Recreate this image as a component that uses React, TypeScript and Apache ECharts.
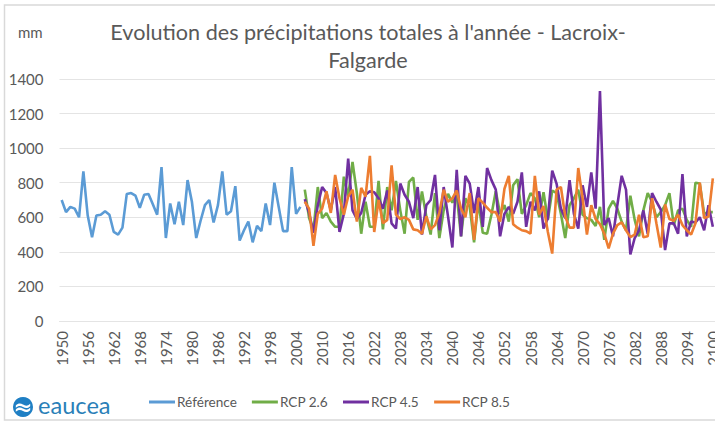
import React, { useEffect, useRef } from "react";
import * as echarts from "echarts";

const years: string[] = [];
for (let y = 1950; y <= 2100; y++) years.push(String(y));

const reference = [700,630,660,650,600,865,610,485,610,615,635,615,515,500,540,735,740,725,655,730,735,675,615,890,480,680,560,690,555,815,690,480,580,670,700,570,670,865,615,635,780,465,525,575,455,550,520,680,555,800,660,520,520,890,620,660];
const rcp26 = [760,595,525,775,595,625,575,545,545,835,720,920,740,505,690,545,545,810,530,775,640,810,640,505,805,830,585,750,605,500,740,480,640,735,685,730,490,710,660,455,690,510,505,615,750,620,670,575,785,820,620,670,740,710,600,745,585,755,740,620,480,670,710,760,615,595,585,550,660,470,650,695,650,575,525,725,585,490,640,740,690,600,630,670,740,555,640,650,585,545,800,795,620,630,630];
const rcp45 = [705,625,510,670,775,740,640,775,515,620,940,640,590,625,730,750,745,710,650,755,565,535,795,730,690,595,775,500,670,700,845,525,775,605,425,875,490,840,795,625,775,545,885,815,760,490,620,660,620,690,860,545,690,640,750,535,595,870,795,650,595,815,620,535,785,660,860,650,1330,555,595,490,670,840,760,385,480,525,640,505,740,690,645,410,565,565,505,850,490,575,570,600,525,670,545];
const rcp85 = [690,650,435,620,650,750,625,845,710,615,720,760,575,770,720,955,515,700,565,585,900,615,590,600,585,530,525,505,605,530,555,625,760,690,710,755,650,600,740,470,710,685,655,630,630,575,765,840,560,540,525,520,505,840,615,665,515,390,760,775,605,540,540,885,710,500,670,590,560,505,420,505,555,570,525,485,500,615,485,490,710,565,425,675,590,580,615,555,525,500,565,800,595,605,825];
const pad = (a: number[]) => [...new Array(56).fill(null), ...a];

const FONT = "Lato, sans-serif";
const GRAY = "#595959";

echarts.graphic.registerShape(
  "eauceaDrop",
  echarts.graphic.extendPath(
    "M1 8 C4 5 7 5 10 7 C13 9 16 9 19 6 L19 9 C16 12 13 12 10 10 C7 8 4 8 1 11 Z M1 13 C4 10 7 10 10 12 C13 14 16 14 19 11 L19 14 C16 17 13 17 10 15 C7 13 4 13 1 16 Z",
    {}
  )
);

export default function App() {
  const ref = useRef<HTMLDivElement>(null);
  useEffect(() => {
    const chart = echarts.init(ref.current!, null, { renderer: "svg" });
    const line = (name: string, data: (number | null)[], color: string, z: number) => ({
      name, type: "line", data, z, showSymbol: false, symbol: "none", smooth: false,
      connectNulls: false, lineStyle: { color, width: 2.6 }, itemStyle: { color },
    });
    chart.setOption({
      animation: false,
      backgroundColor: "#ffffff",
      textStyle: { fontFamily: FONT },
      title: {
        text: "Evolution des précipitations totales à l'année - Lacroix-\nFalgarde",
        left: 363, top: 13, textAlign: "center",
        textStyle: { fontFamily: FONT, fontSize: 21.6, fontWeight: "normal", color: GRAY, lineHeight: 28 },
      },
      grid: { left: 59.5, right: 0, top: 79, height: 242, containLabel: false, outerBoundsMode: "none" },
      xAxis: {
        type: "category", data: years, boundaryGap: true,
        axisTick: { show: false },
        axisLine: { show: true, lineStyle: { color: "#e4e4e4" } },
        axisLabel: { interval: 5, rotate: 90, color: GRAY, fontSize: 15, fontFamily: FONT, margin: 10, showMaxLabel: true, hideOverlap: false },
      },
      yAxis: {
        type: "value", min: 0, max: 1400, interval: 200,
        axisLine: { show: false }, axisTick: { show: false },
        axisLabel: { color: GRAY, fontSize: 15, fontFamily: FONT, margin: 16, formatter: (v: number) => String(v) },
        splitLine: { lineStyle: { color: "#e4e4e4", width: 1 } },
      },
      legend: {
        left: 144, top: 390, itemWidth: 26, itemHeight: 3, itemGap: 15,
        icon: "rect",
        textStyle: { color: GRAY, fontSize: 13.6, fontFamily: FONT, padding: [0, 0, 0, -3] },
        data: ["Référence", "RCP 2.6", "RCP 4.5", "RCP 8.5"],
      },
      series: [
        line("Référence", reference, "#5b9bd5", 2),
        line("RCP 2.6", pad(rcp26), "#70ad47", 3),
        line("RCP 4.5", pad(rcp45), "#7030a0", 4),
        line("RCP 8.5", pad(rcp85), "#ed7d31", 5),
      ],
      graphic: [
        { type: "rect", shape: { x: 4.5, y: 5, width: 800, height: 415 }, style: { fill: "none", stroke: "#d9d9d9", lineWidth: 1.5 }, silent: true, z: -1 },
        { type: "text", x: 18, y: 24, style: { text: "mm", fill: GRAY, font: `15px ${FONT}` } },
        { type: "circle", shape: { cx: 23, cy: 407, r: 10 }, style: { fill: "#1f7fc4" } },
        { type: "eauceaDrop", x: 15, y: 399, scaleX: 0.8, scaleY: 0.8, style: { fill: "#ffffff" } },
        { type: "text", x: 38, y: 393, style: { text: "eaucea", fill: "#2a7fb8", font: `23.6px ${FONT}` } },
      ],
    });
    return () => chart.dispose();
  }, []);
  return <div ref={ref} style={{ position: "fixed", left: 0, top: 0, width: 715, height: 422 }} />;
}
